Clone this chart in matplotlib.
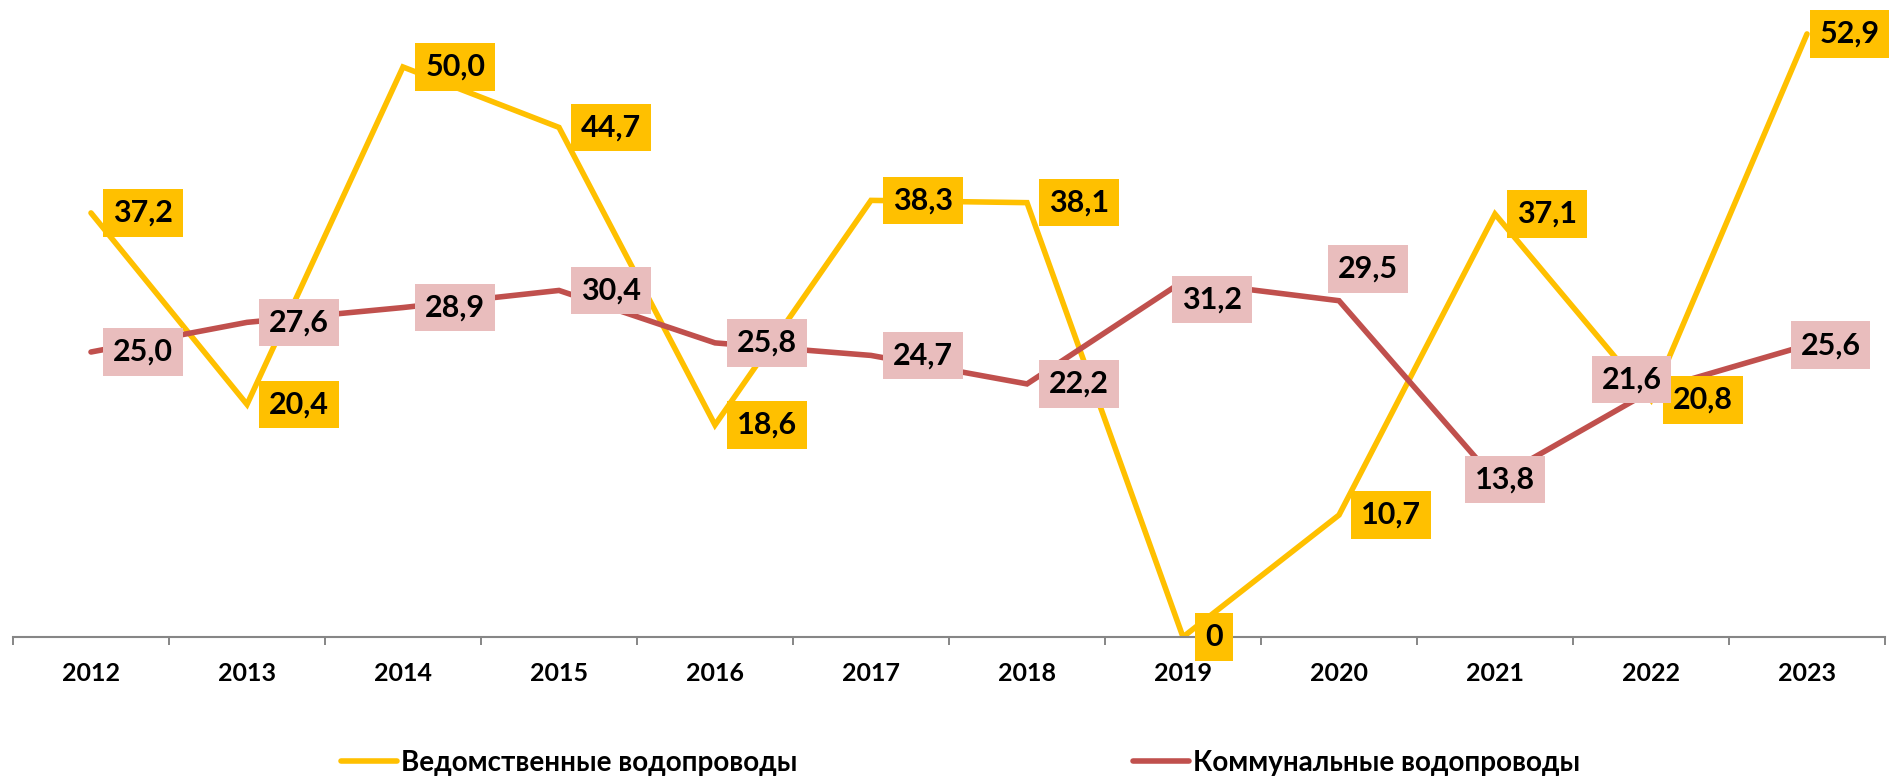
import matplotlib
matplotlib.use("Agg")
import matplotlib.pyplot as plt
from matplotlib.lines import Line2D
import numpy as np

plt.rcParams["font.family"] = ["Lato", "Open Sans", "DejaVu Sans"]
plt.rcParams["font.weight"] = "bold"

years = ["2012", "2013", "2014", "2015", "2016", "2017",
         "2018", "2019", "2020", "2021", "2022", "2023"]
vedomstv = [37.2, 20.4, 50.0, 44.7, 18.6, 38.3, 38.1, 0.0, 10.7, 37.1, 20.8, 52.9]
kommun = [25.0, 27.6, 28.9, 30.4, 25.8, 24.7, 22.2, 31.2, 29.5, 13.8, 21.6, 25.6]
name_ved = "Ведомственные водопроводы"
name_kom = "Коммунальные водопроводы"

YELLOW = "#FFC000"
RED = "#C0504D"
PINK = "#E9BDBD"
AXIS_GREY = "#868686"

# hand-moved labels (offset in points)
ved_nudge = {11: (9, 0)}
kom_nudge = {7: (21, -13), 8: (21, 23), 9: (7, 0), 10: (-14, 8), 11: (17, 0)}


def fmt(v):
    if v == 0:
        return "0"
    return f"{v:.1f}".replace(".", ",")


fig = plt.figure(figsize=(18.9, 7.79), dpi=100)
ax = fig.add_axes([13 / 1890, 142 / 779, 1872 / 1890, 627 / 779])

x = np.arange(len(years))
ax.plot(x, vedomstv, color=YELLOW, lw=4, solid_capstyle="round",
        solid_joinstyle="miter", zorder=2)
ax.plot(x, kommun, color=RED, lw=4, solid_capstyle="round",
        solid_joinstyle="miter", zorder=3)

lbl = dict(fontsize=22, fontweight="bold", va="center")
for i, v in enumerate(vedomstv):
    off = ved_nudge.get(i, (16, 0))
    ax.annotate(fmt(v), (x[i], v), xytext=off, textcoords="offset points",
                ha="left", bbox=dict(boxstyle="square,pad=0.32", fc=YELLOW, ec="none"),
                zorder=4, **lbl)

for i, v in enumerate(kommun):
    if i in kom_nudge:
        off, ha = kom_nudge[i], "center"
    else:
        off, ha = (16, 0), "left"
    ax.annotate(fmt(v), (x[i], v), xytext=off, textcoords="offset points",
                ha=ha, bbox=dict(boxstyle="square,pad=0.32", fc=PINK, ec="none"),
                zorder=5, **lbl)

ax.set_xlim(-0.5, len(years) - 0.5)
ax.set_ylim(0, 55)
ax.set_xticks(x)
ax.set_xticklabels(years, fontsize=18, fontweight="bold")
ax.set_xticks(np.arange(-0.5, len(years)), minor=True)
ax.tick_params(axis="x", which="major", length=0, pad=18)
ax.tick_params(axis="x", which="minor", length=6, width=1.4, color=AXIS_GREY)
ax.set_yticks([])
for side in ("left", "right", "top"):
    ax.spines[side].set_visible(False)
ax.spines["bottom"].set_color(AXIS_GREY)
ax.spines["bottom"].set_linewidth(1.5)
ax.patch.set_visible(False)

# two legend entries, placed like the original
for name, col, x0 in ((name_ved, YELLOW, 341), (name_kom, RED, 1133)):
    h = Line2D([], [], color=col, lw=4, solid_capstyle="round")
    fig.legend([h], [name], loc="center left",
               bbox_to_anchor=(x0 / 1890, 16 / 779), frameon=False,
               borderpad=0, borderaxespad=0, handlelength=2.0,
               handletextpad=0.15, prop=dict(size=20, weight="bold"))

fig.savefig("out.png", dpi=100)
